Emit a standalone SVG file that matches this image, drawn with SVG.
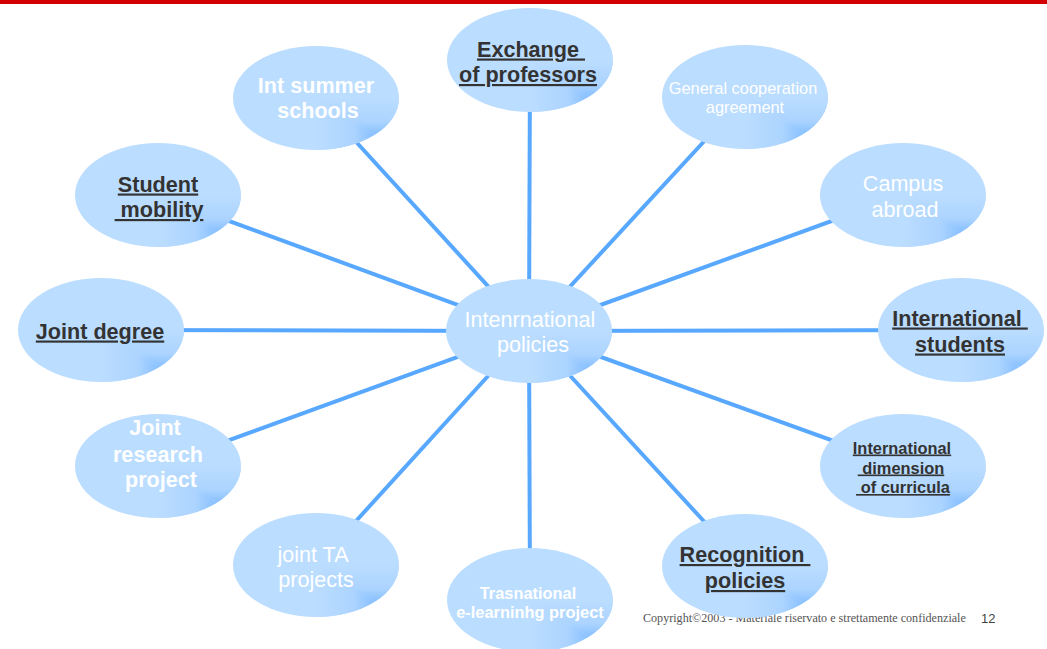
<svg xmlns="http://www.w3.org/2000/svg" width="1047" height="649" viewBox="0 0 1047 649">
  <style>
    .t { font-family: "Liberation Sans", Arial, sans-serif; text-anchor: middle; }
    .big { font-size: 21.6px; }
    .small { font-size: 16.4px; }
    .dark { fill: #333333; font-weight: bold; text-decoration: underline; white-space: pre; }
    .white { fill: #ffffff; }
    .whiteb { fill: #ffffff; font-weight: bold; }
    .link { stroke: #58a8ff; stroke-width: 4; stroke-linecap: butt; }
    .copy { font-family: "Liberation Serif", "Times New Roman", serif; font-size: 12.1px; fill: #555555; }
    .pg { font-family: "Liberation Sans", Arial, sans-serif; font-size: 13px; fill: #444444; }
  </style>
  <defs>
    <!-- shading of the lower-right quadrant of each bubble -->
    <linearGradient id="shadeV" gradientUnits="userSpaceOnUse" x1="0" y1="0" x2="0" y2="52">
      <stop offset="0" stop-color="#bbddff"/>
      <stop offset="0.45" stop-color="#acd4ff"/>
      <stop offset="0.8" stop-color="#7ab8ff"/>
      <stop offset="1" stop-color="#5aa6ff"/>
    </linearGradient>
    <linearGradient id="shadeH" gradientUnits="userSpaceOnUse" x1="0" y1="0" x2="83" y2="0">
      <stop offset="0" stop-color="#bbddff"/>
      <stop offset="0.45" stop-color="#acd4ff"/>
      <stop offset="0.8" stop-color="#7ab8ff"/>
      <stop offset="1" stop-color="#5aa6ff"/>
    </linearGradient>
    <clipPath id="bubbleClip">
      <ellipse cx="0" cy="0" rx="83" ry="52"/>
    </clipPath>
    <g id="bubble">
      <ellipse cx="0" cy="0" rx="83" ry="52" fill="#bbddff"/>
      <g clip-path="url(#bubbleClip)">
        <polygon points="0,0 83,0 83,52" fill="url(#shadeV)"/>
        <polygon points="0,0 83,52 0,52" fill="url(#shadeH)"/>
      </g>
    </g>
  </defs>

  <rect width="1047" height="649" fill="#ffffff"/>
  <rect x="0" y="0" width="1047" height="4" fill="#d20000"/>

  <!-- footer -->
  <text class="copy" x="643" y="622">Copyright©2003 - Materiale riservato e strettamente confidenziale</text>
  <text class="pg" x="981" y="623">12</text>

  <!-- spokes from the hub to every bubble -->
  <g id="connectors">
    <line class="link" x1="529" y1="331" x2="530" y2="60"/>
    <line class="link" x1="529" y1="331" x2="316" y2="98"/>
    <line class="link" x1="529" y1="331" x2="745" y2="97"/>
    <line class="link" x1="529" y1="331" x2="158" y2="195"/>
    <line class="link" x1="529" y1="331" x2="903" y2="195"/>
    <line class="link" x1="529" y1="331" x2="101" y2="330"/>
    <line class="link" x1="529" y1="331" x2="961" y2="330"/>
    <line class="link" x1="529" y1="331" x2="158" y2="466"/>
    <line class="link" x1="529" y1="331" x2="903" y2="466"/>
    <line class="link" x1="529" y1="331" x2="316" y2="565"/>
    <line class="link" x1="529" y1="331" x2="745" y2="566"/>
    <line class="link" x1="529" y1="331" x2="530" y2="600"/>
  </g>

  <g id="node-hub">
    <use href="#bubble" transform="translate(529,331)"/>
    <text class="t big white" x="530" y="327">Intenrnational</text>
    <text class="t big white" x="533" y="352">policies</text>
  </g>

  <g id="node-exchange">
    <use href="#bubble" transform="translate(530,60)"/>
    <text class="t big dark" x="531" y="56.5" xml:space="preserve">Exchange </text>
    <text class="t big dark" x="528" y="82">of professors</text>
  </g>

  <g id="node-summer">
    <use href="#bubble" transform="translate(316,98)"/>
    <text class="t big whiteb" x="316" y="92.5">Int summer</text>
    <text class="t big whiteb" x="318" y="117.5">schools</text>
  </g>

  <g id="node-general">
    <use href="#bubble" transform="translate(745,97)"/>
    <text class="t small white" x="743" y="93.5">General cooperation</text>
    <text class="t small white" x="745" y="113">agreement</text>
  </g>

  <g id="node-student">
    <use href="#bubble" transform="translate(158,195)"/>
    <text class="t big dark" x="158" y="191.5">Student</text>
    <text class="t big dark" x="159" y="217" xml:space="preserve"> mobility</text>
  </g>

  <g id="node-campus">
    <use href="#bubble" transform="translate(903,195)"/>
    <text class="t big white" x="903" y="191">Campus</text>
    <text class="t big white" x="905" y="216.5">abroad</text>
  </g>

  <g id="node-joint-degree">
    <use href="#bubble" transform="translate(101,330)"/>
    <text class="t big dark" x="100" y="338.5">Joint degree</text>
  </g>

  <g id="node-int-students">
    <use href="#bubble" transform="translate(961,330)"/>
    <text class="t big dark" x="960" y="325.5" xml:space="preserve">International </text>
    <text class="t big dark" x="960" y="351.5">students</text>
  </g>

  <g id="node-joint-research">
    <use href="#bubble" transform="translate(158,466)"/>
    <text class="t big whiteb" x="155" y="435">Joint</text>
    <text class="t big whiteb" x="158" y="461.5">research</text>
    <text class="t big whiteb" x="161" y="487">project</text>
  </g>

  <g id="node-int-dimension">
    <use href="#bubble" transform="translate(903,466)"/>
    <text class="t small dark" x="902" y="453.5">International</text>
    <text class="t small dark" x="901" y="473.5" xml:space="preserve"> dimension</text>
    <text class="t small dark" x="903" y="493" xml:space="preserve"> of curricula</text>
  </g>

  <g id="node-joint-ta">
    <use href="#bubble" transform="translate(316,565)"/>
    <text class="t big white" x="313" y="561.5">joint TA</text>
    <text class="t big white" x="316" y="587">projects</text>
  </g>

  <g id="node-recognition">
    <use href="#bubble" transform="translate(745,566)"/>
    <text class="t big dark" x="745" y="562" xml:space="preserve">Recognition </text>
    <text class="t big dark" x="745" y="588">policies</text>
  </g>

  <g id="node-transnational">
    <use href="#bubble" transform="translate(530,600)"/>
    <text class="t small whiteb" x="528" y="598.5">Trasnational</text>
    <text class="t small whiteb" x="530" y="617.5">e-learninhg project</text>
  </g>
</svg>
